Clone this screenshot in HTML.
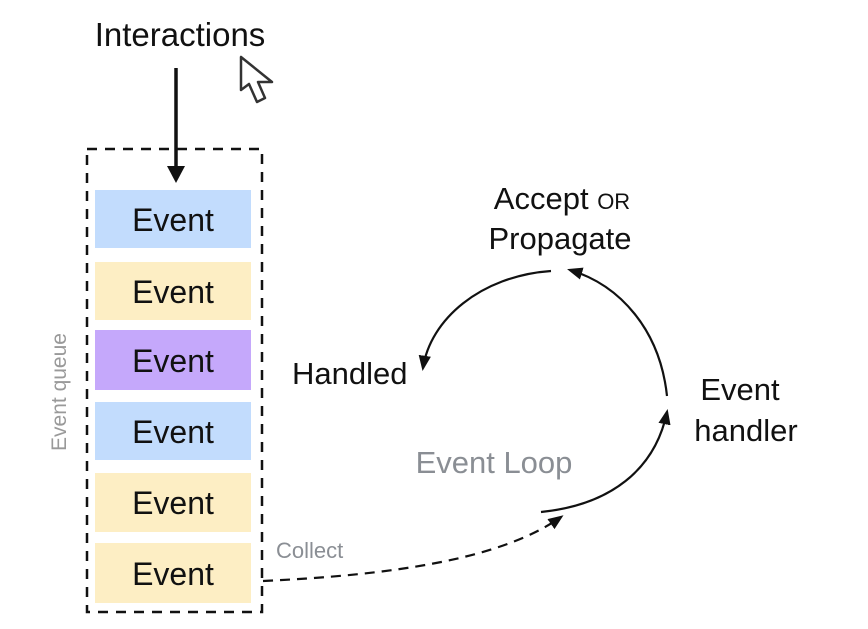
<!DOCTYPE html>
<html><head><style>
body{margin:0;background:#fff}
svg text{font-family:"Liberation Sans Narrow","Liberation Sans",sans-serif}
</style></head><body>
<svg width="868" height="624" viewBox="0 0 868 624" xmlns="http://www.w3.org/2000/svg">
<defs>
<marker id="ah" viewBox="0 0 10 10" refX="8" refY="5" markerWidth="7" markerHeight="7" orient="auto"><path d="M0,1 L10,5 L0,9 z" fill="#111"/></marker>
</defs>
<rect width="868" height="624" fill="#fff"/>
<text x="180" y="46" font-size="33" text-anchor="middle" fill="#111">Interactions</text>
<path d="M241,57 L241,90 L249,84 L257,102 L265,98 L258,82 L272,82 Z" fill="#fff" stroke="#333" stroke-width="2.5" stroke-linejoin="round"/>
<line x1="176" y1="68" x2="176" y2="168" stroke="#111" stroke-width="3.5"/>
<path d="M167,166 L185,166 L176,183 Z" fill="#111"/>
<rect x="87" y="149" width="175" height="463" fill="none" stroke="#111" stroke-width="2.5" stroke-dasharray="10,8"/>
<g font-size="32" text-anchor="middle" fill="#111">
<rect x="95" y="190" width="156" height="58" fill="#c2dcfd"/><text x="173" y="231">Event</text>
<rect x="95" y="262" width="156" height="58" fill="#fdeec4"/><text x="173" y="303">Event</text>
<rect x="95" y="330" width="156" height="60" fill="#c5a8fb"/><text x="173" y="372">Event</text>
<rect x="95" y="402" width="156" height="58" fill="#c2dcfd"/><text x="173" y="443">Event</text>
<rect x="95" y="473" width="156" height="59" fill="#fdeec4"/><text x="173" y="514">Event</text>
<rect x="95" y="543" width="156" height="60" fill="#fdeec4"/><text x="173" y="585">Event</text>
</g>
<text transform="translate(66,392) rotate(-90)" font-size="21" text-anchor="middle" fill="#999">Event queue</text>
<text x="562" y="209" font-size="31" text-anchor="middle" fill="#111">Accept <tspan font-size="22">OR</tspan></text>
<text x="560" y="249" font-size="31" text-anchor="middle" fill="#111">Propagate</text>
<text x="292" y="384" font-size="31" fill="#111">Handled</text>
<text x="740" y="400" font-size="31" text-anchor="middle" fill="#111">Event</text>
<text x="746" y="441" font-size="31" text-anchor="middle" fill="#111">handler</text>
<text x="494" y="473" font-size="31" text-anchor="middle" fill="#8a8e94">Event Loop</text>
<text x="276" y="558" font-size="22" fill="#8a8e94">Collect</text>
<g fill="none" stroke="#111" stroke-width="2.2">
<path d="M551,271 C480,276 430,320 423,368" marker-end="url(#ah)"/>
<path d="M667,396 C660,330 620,285 570,270" marker-end="url(#ah)"/>
<path d="M541,512 C610,505 655,470 667,412" marker-end="url(#ah)"/>
<path d="M263,581 C390,575 500,560 561,517" stroke-dasharray="10,7" marker-end="url(#ah)"/>
</g>
</svg>
</body></html>
